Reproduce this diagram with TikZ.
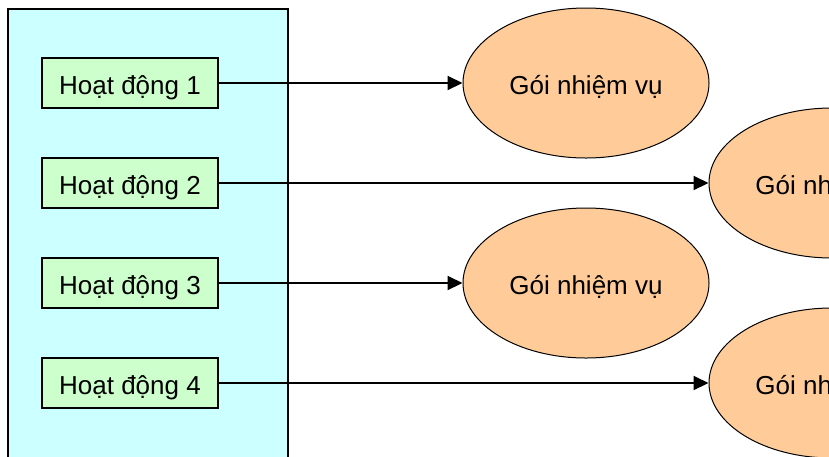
\documentclass[tikz,border=0pt]{standalone}
\usepackage{fontspec}
\setmainfont{Liberation Sans}
\usetikzlibrary{shapes.geometric,arrows.meta}
\definecolor{panelcyan}{HTML}{CCFFFF}
\definecolor{actgreen}{HTML}{CCFFCC}
\definecolor{pkgorange}{HTML}{FFCC99}
\tikzset{
  label text/.style={font=\fontsize{26}{30}\selectfont, text height=22pt, text depth=0pt},
  actbox/.style={label text, draw=black, line width=1.3pt, fill=actgreen, minimum width=176pt, minimum height=50pt, inner sep=0pt},
  pkg/.style={label text, ellipse, draw=black, line width=1pt, fill=pkgorange, minimum width=246pt, minimum height=150pt, inner sep=0pt},
  link/.style={line width=2pt, -{Triangle[length=15pt,width=14pt]}}
}
\begin{document}
\begin{tikzpicture}[x=1pt,y=-1pt]
\useasboundingbox (0,0) rectangle (829,456);
\clip (0,0) rectangle (829,456);
% left panel holding the activities
\draw[line width=1.3pt, fill=panelcyan] (8,9) rectangle (288,480);
% activities
\node[actbox] (a1) at (130,83) {Hoạt động 1};
\node[actbox] (a2) at (130,183) {Hoạt động 2};
\node[actbox] (a3) at (130,283) {Hoạt động 3};
\node[actbox] (a4) at (130,383) {Hoạt động 4};
% work packages
\node[pkg] (p1) at (586,83) {Gói nhiệm vụ};
\node[pkg] (p2) at (832,183) {Gói nhiệm vụ};
\node[pkg] (p3) at (586,283) {Gói nhiệm vụ};
\node[pkg] (p4) at (832,383) {Gói nhiệm vụ};
% links
\draw[link] (a1) -- (p1);
\draw[link] (a2) -- (p2);
\draw[link] (a3) -- (p3);
\draw[link] (a4) -- (p4);
\end{tikzpicture}
\end{document}
